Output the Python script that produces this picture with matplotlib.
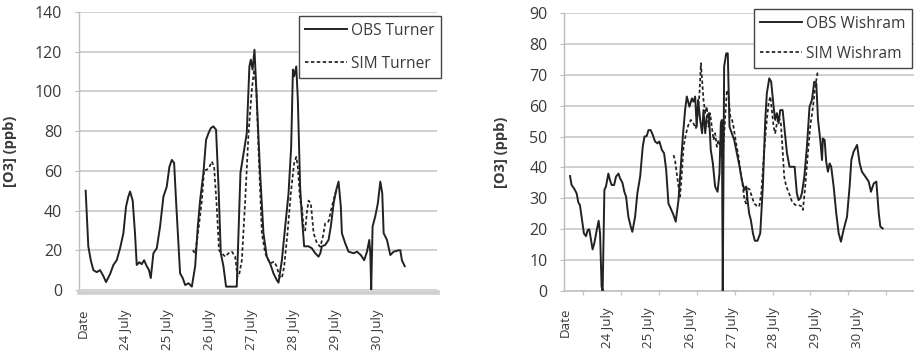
import matplotlib
matplotlib.use("Agg")
import matplotlib.pyplot as plt
import numpy as np

# ---------------- data (hours since start of chart, ozone ppb) ----------------
day_labels = ["Date", "24 July", "25 July", "26 July", "27 July", "28 July", "29 July", "30 July"]

turner_obs_h = [3.8, 5.3, 6.7, 8.2, 10.1, 12.0, 13.9, 15.4, 17.7, 19.6, 21.5, 23.4, 25.3, 26.8,
                28.1, 29.1, 30.6, 31.9, 32.9, 34.4, 35.7, 37.1, 38.6, 39.9, 40.9, 42.4, 44.3,
                46.2, 48.1, 50.0, 51.5, 52.9, 54.2, 55.3, 57.6, 59.1, 60.5, 62.4, 64.3, 66.2,
                67.7, 69.0, 70.9, 72.4, 73.8, 75.1, 76.6, 78.1, 79.5, 80.8, 82.3, 83.8, 87.1,
                89.9, 92.0, 95.6, 97.1, 97.9, 98.9, 100.0, 101.3, 103.2, 105.1, 107.0, 108.9,
                110.8, 112.7, 113.7, 115.6, 117.5, 119.4, 120.9, 121.9, 122.6, 123.8, 124.7,
                126.0, 127.0, 128.3, 130.8, 132.7, 134.6, 136.5, 137.5, 138.4, 140.3, 142.2,
                143.5, 145.1, 146.6, 147.9, 149.2, 149.8, 151.7, 153.6, 156.5, 158.4, 160.6,
                162.5, 164.1, 165.4, 166.0, 166.5, 167.3, 168.8, 170.3, 171.7, 172.8, 173.6,
                175.5, 177.4, 179.3, 182.1, 183.1, 184.0, 185.6]
turner_obs = [50, 22, 15, 10, 9, 10, 7, 4, 8, 12.6, 15, 21, 28.6, 42,
              47, 49.6, 45, 28.6, 12.6, 14, 13, 15, 12, 10, 6, 18.5, 21,
              32, 47, 52, 62, 65.5, 64, 45, 8.4, 6, 2.5, 3.4, 1.7, 12,
              32, 45, 59, 75.6, 79, 81.5, 82.4, 80.7, 52, 18.5, 12, 1.7, 1.7,
              1.7, 59, 79, 112.6, 116, 111, 121, 96, 59, 28.6, 16.8, 13.4,
              8.4, 5, 3.7, 15, 32, 48.7, 72, 111, 107.6, 112.6, 96,
              52, 37, 22, 22, 21, 18.5, 16.8, 18.5, 22, 22.7, 25.2,
              32, 43.7, 50.4, 54.6, 42, 28.6, 23.5, 19.3, 18.5, 19.3, 17.6,
              15, 19.3, 25.2, 18.5, 0, 32, 37, 43.7, 54.6, 48.7, 28.6,
              25.2, 17.6, 19.3, 20, 20, 15, 12]

turner_sim_h = [64.8, 66.2, 68.0, 70.0, 71.3, 72.8, 74.3, 75.7, 77.0, 78.5, 79.8, 81.4, 83.3,
                85.2, 87.1, 89.0, 90.3, 91.4, 92.8, 94.7, 96.6, 98.5, 99.8, 101.0, 102.3,
                104.2, 106.1, 108.9, 111.2, 112.7, 114.3, 115.6, 116.9, 118.8, 120.7, 122.6,
                123.8, 124.7, 126.0, 127.0, 127.9, 128.9, 129.8, 130.8, 132.1, 133.7, 135.6,
                137.5, 139.0, 140.3, 142.2, 144.1, 146.0, 147.0]
turner_sim = [20, 18.5, 30, 45, 60.5, 60.5, 62, 64.7, 62, 42, 20, 18.5, 16.8,
              18.5, 19.3, 16.8, 6.7, 8.4, 15, 45, 79, 101, 111, 102.5, 70.6,
              28.6, 18.5, 13.4, 14.3, 11.8, 6.7, 6, 11.8, 28.6, 48.7, 63.9,
              67, 62, 45, 42, 32, 30, 38.7, 45, 43.7, 28.6, 23.5,
              21.8, 27, 33.6, 34.5, 42, 48.7, 50.4]

wishram_obs_h = [3.3, 4.2, 5.6, 7.1, 8.1, 9.0, 10.2, 11.3, 12.5, 13.5, 14.4, 15.4, 16.3, 17.3,
                 18.7, 19.8, 20.6, 21.5, 22.1, 23.1, 24.0, 25.4, 26.3, 27.3, 28.7, 29.8, 31.2,
                 32.1, 33.5, 34.6, 35.6, 36.9, 38.3, 39.2, 40.8, 42.1, 43.7, 45.2, 46.2, 47.5,
                 48.5, 49.8, 51.0, 52.3, 53.7, 54.8, 56.2, 57.5, 58.7, 60.0, 61.3, 62.9, 64.2,
                 65.8, 67.1, 68.3, 69.6, 70.6, 72.1, 73.5, 74.4, 75.4, 76.3, 77.1, 78.3, 79.4,
                 80.2, 81.2, 82.1, 83.3, 84.4, 85.6, 86.9, 88.3, 89.4, 90.2, 90.8, 91.3, 92.1,
                 93.3, 94.2, 95.2, 96.5, 97.9, 99.4, 101.0, 102.3, 103.7, 104.8, 105.6, 106.5,
                 107.5, 108.7, 109.8, 111.3, 112.9, 114.4, 115.8, 116.7, 118.1, 119.2, 120.6,
                 121.5, 122.5, 123.5, 124.4, 125.8, 127.3, 128.3, 129.8, 131.7, 132.7, 134.0,
                 135.0, 136.0, 136.9, 138.3, 139.8, 141.3, 142.7, 144.0, 145.2, 146.2, 147.5,
                 148.5, 149.0, 150.0, 150.9, 151.9, 152.9, 153.8, 155.2, 156.7, 158.1, 159.4,
                 160.9, 162.9, 164.4, 165.4, 166.7, 168.7, 170.2, 171.5, 173.5, 175.4, 176.7,
                 178.3, 179.8, 181.2, 182.1, 183.5]
wishram_obs = [37.2, 34.3, 33.2, 31.6, 28.6, 27.8, 22.9, 18.6, 17.7, 19.7, 19.9, 16.4, 13.4, 15.4,
               19.7, 22.7, 18.6, 1.3, 0, 32.7, 33.8, 38, 35.9, 34.3, 34.3, 37, 38,
               36.5, 35, 32.1, 30.5, 24, 20.8, 19.1, 24, 31.6, 37, 46.7, 50, 50.2,
               52.1, 52.1, 50.5, 48.4, 47.8, 48.4, 45.7, 44.6, 39.2, 28.3, 26.7, 24.6, 22.4,
               29.4, 40.2, 50, 58.6, 63, 59.7, 62.4, 61.3, 63, 53.2, 61.9, 55.4, 51.1,
               58.6, 51.1, 56.5, 57.6, 45.7, 41.3, 33.8, 32.1, 38, 54.3, 55.4, 0, 72.7,
               77, 77, 53.2, 51.1, 48.9, 44.6, 40.2, 35.9, 32.7, 33.8, 29.4, 25.1,
               22.9, 18.6, 16.2, 16.2, 18.6, 33.8, 55.4, 64, 68.9, 67.8, 59.7,
               55.4, 57.6, 54.3, 58.6, 58.6, 50, 44.6, 40.2, 40.2, 40.2, 31.6,
               29.4, 30, 31.6, 37, 46.7, 59.7, 61.9, 67.8, 67.3, 55.4, 48.9,
               42.4, 49.4, 48.9, 41.9, 38.6, 41.3, 40.2, 33.8, 25.1, 18.6, 15.9,
               19.7, 24, 33.8, 42.4, 45.1, 47.3, 41.3, 38.6, 37, 35.4, 32.1,
               34.8, 35.4, 25.1, 20.8, 20.2]

wishram_sim_h = [62.9, 63.8, 64.8, 65.8, 66.7, 67.7, 68.7, 70.2, 71.5, 72.9, 74.4, 75.8, 76.7,
                 77.9, 78.7, 79.4, 80.2, 81.2, 82.1, 83.1, 84.0, 85.0, 86.0, 86.9, 87.9, 88.8,
                 89.8, 90.8, 91.7, 92.7, 93.7, 94.6, 95.6, 96.5, 97.5, 99.0, 100.4, 101.7,
                 102.9, 103.8, 104.8, 105.6, 106.7, 108.1, 109.4, 111.0, 112.3, 113.5, 114.8,
                 116.3, 117.7, 118.7, 119.6, 120.6, 121.5, 122.5, 123.5, 124.8, 125.8, 126.7,
                 127.9, 129.2, 131.2, 133.1, 135.0, 136.9, 137.5, 138.8, 140.2, 141.7, 143.3,
                 144.6, 146.0]
wishram_sim = [44, 42.4, 38, 33.8, 30.5, 38, 46.7, 51.1, 53.8, 55.4, 54.3, 52.7, 56.5,
               64, 73.8, 68.4, 61.9, 57.6, 59.7, 53.2, 57.6, 53.2, 48.9, 51.1, 46.7, 48.9,
               46.7, 43.5, 46.7, 56.5, 65.1, 64, 56.5, 55.9, 53.2, 47.8, 43.5, 38,
               33.8, 29.4, 28.3, 33.2, 32.9, 30.5, 28.3, 27.5, 27.3, 31.6, 42.4,
               53.2, 60.8, 63, 58.6, 53.2, 51.1, 54.3, 56.5, 54.3, 45.7, 37,
               33.8, 32.1, 28.9, 27.8, 27.8, 27.3, 26.2, 33.8, 43.5, 53.2, 59.7,
               66.2, 71.0]

# ---------------- styling ----------------
FONT = "Open Sans"
plt.rcParams["font.family"] = [FONT, "DejaVu Sans"]
TXT = "#3a3a3a"
GRID = "#cdcdcd"
LINE = "#222222"

fig = plt.figure(figsize=(9.14, 3.61), dpi=100)
axL = fig.add_axes([79 / 914, 1 - 290 / 361, 358 / 914, 278 / 361])
axR = fig.add_axes([564.3 / 914, 1 - 290.7 / 361, 349.7 / 914, 277.4 / 361])


def style(ax, xmax, ymax, ystep, label_off, minor_ticks, band, leg_labels, leg_anchor,
          leg_spacing, xs_obs, ys_obs, xs_sim, ys_sim, ylab_x):
    # spines first (changing spine position resets the tick objects)
    for s in ("top", "right"):
        ax.spines[s].set_visible(False)
    ax.spines["left"].set_color("#bcbcbc")
    ax.spines["left"].set_linewidth(1.0)
    if band:
        ax.spines["bottom"].set_position(("outward", 1.6))
        ax.spines["bottom"].set_color("#cfcfcf")
        ax.spines["bottom"].set_linewidth(3.3)
    else:
        ax.spines["bottom"].set_color("#c4c4c4")
        ax.spines["bottom"].set_linewidth(1.3)

    ax.plot(xs_obs, ys_obs, color=LINE, lw=1.4, solid_joinstyle="round", label=leg_labels[0], zorder=3)
    ax.plot(xs_sim, ys_sim, color=LINE, lw=1.25, linestyle=(0, (2.0, 1.4)), label=leg_labels[1], zorder=3)
    ax.set_xlim(0, xmax)
    ax.set_ylim(0, ymax)
    ax.set_axisbelow(True)
    ax.set_yticks(np.arange(0, ymax + 1, ystep))
    ax.yaxis.grid(True, color=GRID, lw=1.3)
    ax.tick_params(axis="y", which="major", length=3, width=0.8, color="#bcbcbc",
                   pad=9, labelsize=11.5, labelcolor=TXT)
    # day labels
    pos = [24 * i + label_off for i in range(len(day_labels))]
    ax.set_xticks(pos)
    ax.set_xticklabels(day_labels, rotation=90, fontsize=9.6, color=TXT)
    ax.tick_params(axis="x", which="major", length=0, pad=12)
    ax.set_xticks(minor_ticks, minor=True)
    if band:
        ax.tick_params(axis="x", which="minor", direction="inout", length=4.5, width=0.9,
                       color="white")
    else:
        ax.tick_params(axis="x", which="minor", direction="out", length=3, width=0.9,
                       color="#c4c4c4")
    ax.set_ylabel("[O3] (ppb)", fontsize=10.5, fontweight="bold", color=TXT)
    ax.yaxis.set_label_coords(ylab_x, 0.5)
    leg = ax.legend(loc="upper right", bbox_to_anchor=leg_anchor, borderaxespad=0,
                    fontsize=11.2, frameon=True, fancybox=False, framealpha=1,
                    edgecolor="#444444", handlelength=2.7, handletextpad=0.25,
                    labelspacing=leg_spacing, borderpad=0.42)
    leg.get_frame().set_linewidth(1.0)
    for t in leg.get_texts():
        t.set_color(TXT)


minorL = [i * 204 / 18 for i in range(1, 18)]
minorR = [11 + 21.8 * i for i in range(9)]

style(axL, 204, 140, 20, 2.3, minorL, True, ["OBS Turner", "SIM Turner"],
      (1.012, 0.985), 1.1, turner_obs_h, turner_obs, turner_sim_h, turner_sim, -0.173)
style(axR, 201.5, 90, 10, 0.8, minorR, False, ["OBS Wishram", "SIM Wishram"],
      (0.994, 1.015), 0.9, wishram_obs_h, wishram_obs, wishram_sim_h, wishram_sim, -0.161)

fig.savefig("out.png", dpi=100)
